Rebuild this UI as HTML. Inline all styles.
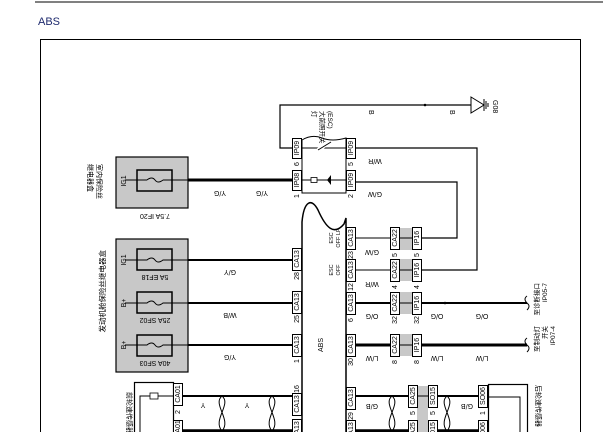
<!DOCTYPE html>
<html><head><meta charset="utf-8"><style>
html,body{margin:0;padding:0;background:#fff;width:603px;height:432px;overflow:hidden}
svg{display:block}
text{font-family:"Liberation Sans","Noto Sans CJK SC",sans-serif;fill:#000}
</style></head><body>
<svg width="603" height="432" viewBox="0 0 603 432" xmlns="http://www.w3.org/2000/svg">
<line x1="35" y1="2" x2="603" y2="2" stroke="#000" stroke-width="1"/>
<text x="38" y="25" font-size="11" style="fill:#1e2a6e">ABS</text>
<path d="M40.5 432 V39.5 H580.5 V432" fill="none" stroke="#000" stroke-width="1"/>

<!-- IG1 box -->
<rect x="116" y="157" width="72" height="51" fill="#c8c8c8" stroke="#000" stroke-width="1.2"/>
<rect x="137" y="170" width="35" height="21" fill="none" stroke="#000" stroke-width="1.5"/>
<line x1="125" y1="180" x2="147" y2="180" stroke="#000" stroke-width="1"/>
<path d="M147 180 q5 -4 8 0 t8 0" fill="none" stroke="#000" stroke-width="1"/>
<line x1="163" y1="180" x2="188" y2="180" stroke="#000" stroke-width="1"/>
<line x1="188" y1="180" x2="292" y2="180" stroke="#000" stroke-width="3"/>
<text transform="translate(126,181) rotate(-90)" font-size="7" text-anchor="middle">IG1</text>
<text transform="translate(220,191) rotate(180)" font-size="7" text-anchor="middle">Y/G</text>
<text transform="translate(262,191) rotate(180)" font-size="7" text-anchor="middle">Y/G</text>
<text transform="translate(155,214) rotate(180)" font-size="7" text-anchor="middle">7.5A IF20</text>
<text transform="translate(97,164) rotate(90)" font-size="7">室内保险丝</text>
<text transform="translate(88,164) rotate(90)" font-size="7">继电器盒</text>

<!-- Engine box -->
<rect x="116" y="239" width="72" height="133" fill="#c8c8c8" stroke="#000" stroke-width="1.2"/>
<g stroke="#000" fill="none">
<rect x="137" y="249" width="35" height="21" stroke-width="1.5"/>
<rect x="137" y="292" width="35" height="21" stroke-width="1.5"/>
<rect x="137" y="335" width="35" height="21" stroke-width="1.5"/>
<path d="M125 260 H147 q5 -4 8 0 t8 0 H188" stroke-width="1"/>
<path d="M125 303 H147 q5 -4 8 0 t8 0 H188" stroke-width="1"/>
<path d="M125 345 H147 q5 -4 8 0 t8 0 H188" stroke-width="1"/>
<line x1="188" y1="260" x2="292" y2="260" stroke-width="2"/>
<line x1="188" y1="303" x2="292" y2="303" stroke-width="2"/>
<line x1="188" y1="345" x2="292" y2="345" stroke-width="2"/>
</g>
<text transform="translate(126,260) rotate(-90)" font-size="7" text-anchor="middle">IG1</text>
<text transform="translate(126,303) rotate(-90)" font-size="7" text-anchor="middle">B+</text>
<text transform="translate(126,345) rotate(-90)" font-size="7" text-anchor="middle">B+</text>
<text transform="translate(155,275) rotate(180)" font-size="7" text-anchor="middle">5A EF18</text>
<text transform="translate(155,318) rotate(180)" font-size="7" text-anchor="middle">25A SF02</text>
<text transform="translate(155,361) rotate(180)" font-size="7" text-anchor="middle">40A SF03</text>
<text transform="translate(230,270) rotate(180)" font-size="7" text-anchor="middle">G/Y</text>
<text transform="translate(230,313) rotate(180)" font-size="7" text-anchor="middle">W/B</text>
<text transform="translate(230,355) rotate(180)" font-size="7" text-anchor="middle">Y/G</text>
<text transform="translate(105,250) rotate(-90)" font-size="7.5" text-anchor="end">发动机舱保险丝继电器盒</text>

<!-- left connectors -->
<g fill="#fff" stroke="#000" stroke-width="1">
<rect x="292.5" y="170.5" width="9" height="20"/>
<rect x="292.5" y="138.5" width="9" height="20"/>
<rect x="292.5" y="248.5" width="9" height="22"/>
<rect x="292.5" y="291.5" width="9" height="22"/>
<rect x="292.5" y="334.5" width="9" height="22"/>
<rect x="292.5" y="393.5" width="9" height="22"/>
<rect x="292.5" y="419.5" width="9" height="22"/>
</g>
<g font-size="7">
<text transform="translate(299,180) rotate(-90)" text-anchor="middle">IP08</text>
<text transform="translate(299,148) rotate(-90)" text-anchor="middle">IP09</text>
<text transform="translate(299,259) rotate(-90)" text-anchor="middle">CA13</text>
<text transform="translate(299,302) rotate(-90)" text-anchor="middle">CA13</text>
<text transform="translate(299,345) rotate(-90)" text-anchor="middle">CA13</text>
<text transform="translate(299,404) rotate(-90)" text-anchor="middle">CA13</text>
<text transform="translate(299,430) rotate(-90)" text-anchor="middle">CA13</text>
<text transform="translate(299,196) rotate(-90)" text-anchor="middle">1</text>
<text transform="translate(299,164) rotate(-90)" text-anchor="middle">6</text>
<text transform="translate(299,276) rotate(-90)" text-anchor="middle">28</text>
<text transform="translate(299,319) rotate(-90)" text-anchor="middle">25</text>
<text transform="translate(299,361) rotate(-90)" text-anchor="middle">1</text>
<text transform="translate(299,389) rotate(-90)" text-anchor="middle">16</text>
</g>

<!-- switch box -->
<path d="M302 193 V140 q10 -6 20 -2 t24 0 V193 Z" fill="#fff" stroke="#000" stroke-width="1"/>
<line x1="302" y1="148" x2="346" y2="148" stroke="#000" stroke-width="1"/>
<line x1="318" y1="150" x2="330" y2="142" stroke="#fff" stroke-width="4"/>
<line x1="318" y1="150" x2="331" y2="142" stroke="#000" stroke-width="1"/>
<line x1="302" y1="180" x2="346" y2="180" stroke="#000" stroke-width="1"/>
<rect x="311" y="177.5" width="6" height="5" fill="#fff" stroke="#000" stroke-width="0.8"/>
<path d="M331 175 l-4 5 l4 5 Z" fill="#000"/>
<g fill="#fff" stroke="#000" stroke-width="1">
<rect x="346.5" y="138.5" width="9" height="20"/>
<rect x="346.5" y="170.5" width="9" height="20"/>
</g>
<text transform="translate(353,148) rotate(-90)" font-size="7" text-anchor="middle">IP09</text>
<text transform="translate(353,180) rotate(-90)" font-size="7" text-anchor="middle">IP09</text>
<text transform="translate(353,164) rotate(-90)" font-size="7" text-anchor="middle">5</text>
<text transform="translate(353,196) rotate(-90)" font-size="7" text-anchor="middle">2</text>
<text transform="translate(312,111) rotate(90)" font-size="6.5">灯</text>
<text transform="translate(320,111) rotate(90)" font-size="6.5">大前照开关</text>
<text transform="translate(328,111) rotate(90)" font-size="6.5">(ESC)</text>

<!-- top ground line -->
<path d="M292 148 H280 V105 H471" fill="none" stroke="#000" stroke-width="1.2"/>
<circle cx="425" cy="105" r="1.3"/>
<path d="M471 97 L484 105 L471 113 Z" fill="#fff" stroke="#000" stroke-width="1"/>
<line x1="484" y1="99" x2="484" y2="111" stroke="#000"/>
<line x1="486" y1="101" x2="486" y2="109" stroke="#000"/>
<line x1="488" y1="103" x2="488" y2="107" stroke="#000"/>
<text transform="translate(493,100) rotate(90)" font-size="7">G08</text>
<text transform="translate(369,110) rotate(90)" font-size="7">B</text>
<text transform="translate(450,110) rotate(90)" font-size="7">B</text>

<!-- ABS module -->
<path d="M302 432 V222 C304 200 312 198 318 210 C326 228 334 236 344 224 L346 218 V432" fill="none" stroke="#000" stroke-width="1.5"/>
<text transform="translate(323,345) rotate(-90)" font-size="7" text-anchor="middle">ABS</text>

<!-- right wires -->
<path d="M356 148 H477 V270 H421" fill="none" stroke="#000" stroke-width="1.2"/>
<path d="M356 182 H457 V238 H421" fill="none" stroke="#000" stroke-width="1.2"/>
<text transform="translate(375,159) rotate(180)" font-size="7" text-anchor="middle">W/R</text>
<text transform="translate(375,192) rotate(180)" font-size="7" text-anchor="middle">G/W</text>
<g stroke="#000" fill="none">
<line x1="356" y1="238" x2="390" y2="238" stroke-width="1"/>
<line x1="356" y1="270" x2="390" y2="270" stroke-width="1"/>
<line x1="356" y1="303" x2="390" y2="303" stroke-width="2"/>
<line x1="421" y1="303" x2="527" y2="303" stroke-width="2"/>
<line x1="356" y1="345" x2="390" y2="345" stroke-width="3"/>
<line x1="421" y1="345" x2="527" y2="345" stroke-width="3"/>
<path d="M527 296 q-4 3 0 7 q4 3 0 7" stroke-width="1"/>
<path d="M527 338 q-4 3 0 7 q4 3 0 7" stroke-width="1"/>
</g>
<circle cx="445" cy="303" r="1.3"/><circle cx="445" cy="345" r="1.3"/>
<g fill="#c8c8c8"><rect x="400" y="228" width="12" height="22"/><rect x="400" y="259" width="12" height="22"/><rect x="400" y="292" width="12" height="22"/><rect x="400" y="334" width="12" height="22"/></g>
<g stroke="#000" stroke-width="1"><line x1="400" y1="238" x2="412" y2="238"/><line x1="400" y1="270" x2="412" y2="270"/><line x1="400" y1="303" x2="412" y2="303"/><line x1="400" y1="345" x2="412" y2="345"/></g>
<g fill="#fff" stroke="#000" stroke-width="1">
<rect x="346.5" y="227.5" width="9" height="22"/><rect x="346.5" y="259.5" width="9" height="22"/><rect x="346.5" y="292.5" width="9" height="22"/><rect x="346.5" y="334.5" width="9" height="22"/>
<rect x="390.5" y="227.5" width="9" height="22"/><rect x="390.5" y="259.5" width="9" height="22"/><rect x="390.5" y="292.5" width="9" height="22"/><rect x="390.5" y="334.5" width="9" height="22"/>
<rect x="412.5" y="227.5" width="9" height="22"/><rect x="412.5" y="259.5" width="9" height="22"/><rect x="412.5" y="292.5" width="9" height="22"/><rect x="412.5" y="334.5" width="9" height="22"/>
</g>
<g font-size="7" text-anchor="middle">
<text transform="translate(353,238) rotate(-90)">CA13</text><text transform="translate(353,270) rotate(-90)">CA13</text><text transform="translate(353,303) rotate(-90)">CA13</text><text transform="translate(353,345) rotate(-90)">CA13</text>
<text transform="translate(397,238) rotate(-90)">CA22</text><text transform="translate(397,270) rotate(-90)">CA22</text><text transform="translate(397,303) rotate(-90)">CA22</text><text transform="translate(397,345) rotate(-90)">CA22</text>
<text transform="translate(419,238) rotate(-90)">IP16</text><text transform="translate(419,270) rotate(-90)">IP16</text><text transform="translate(419,303) rotate(-90)">IP16</text><text transform="translate(419,345) rotate(-90)">IP16</text>
<text transform="translate(353,255) rotate(-90)">23</text><text transform="translate(353,287) rotate(-90)">12</text><text transform="translate(353,320) rotate(-90)">6</text><text transform="translate(353,362) rotate(-90)">30</text>
<text transform="translate(397,255) rotate(-90)">5</text><text transform="translate(397,287) rotate(-90)">4</text><text transform="translate(397,320) rotate(-90)">32</text><text transform="translate(397,362) rotate(-90)">8</text>
<text transform="translate(419,255) rotate(-90)">5</text><text transform="translate(419,287) rotate(-90)">4</text><text transform="translate(419,320) rotate(-90)">32</text><text transform="translate(419,362) rotate(-90)">8</text>
</g>
<g font-size="5.5" text-anchor="middle">
<text transform="translate(333,238) rotate(-90)">ESC</text><text transform="translate(340,238) rotate(-90)">OFF LP</text>
<text transform="translate(333,270) rotate(-90)">ESC</text><text transform="translate(340,270) rotate(-90)">OFF</text>
</g>
<g font-size="7" text-anchor="middle">
<text transform="translate(372,250) rotate(180)">G/W</text>
<text transform="translate(372,282) rotate(180)">W/R</text>
<text transform="translate(372,314) rotate(180)">O/G</text>
<text transform="translate(372,356) rotate(180)">L/W</text>
<text transform="translate(437,314) rotate(180)">O/G</text><text transform="translate(482,314) rotate(180)">O/G</text>
<text transform="translate(437,356) rotate(180)">L/W</text><text transform="translate(482,356) rotate(180)">L/W</text>
</g>
<g font-size="6.5">
<text transform="translate(539,283) rotate(-90)" text-anchor="end">至诊断接口</text>
<text transform="translate(547,283) rotate(-90)" text-anchor="end">IP05-7</text>
<text transform="translate(539,326) rotate(-90)" text-anchor="end">至制动灯</text>
<text transform="translate(547,326) rotate(-90)" text-anchor="end">开关</text>
<text transform="translate(555,326) rotate(-90)" text-anchor="end">IP07-4</text>
</g>

<!-- bottom left sensor -->
<rect x="134.5" y="382.5" width="39" height="60" fill="#fff" stroke="#000" stroke-width="1.2"/>
<path d="M173 396 H158 M150 396 H140 V440" fill="none" stroke="#000" stroke-width="1"/>
<rect x="150" y="393" width="8" height="6" fill="#fff" stroke="#000" stroke-width="0.8"/>
<g fill="#fff" stroke="#000" stroke-width="1"><rect x="173.5" y="383.5" width="9" height="22"/><rect x="173.5" y="420.5" width="9" height="22"/></g>
<text transform="translate(180,394) rotate(-90)" font-size="7" text-anchor="middle">CA01</text>
<text transform="translate(180,429) rotate(-90)" font-size="7" text-anchor="middle">CA01</text>
<text transform="translate(180,412) rotate(-90)" font-size="7" text-anchor="middle">2</text>
<text transform="translate(127,392) rotate(90)" font-size="7">前轮速传感器</text>
<line x1="182" y1="396" x2="292" y2="396" stroke="#000" stroke-width="2"/>
<line x1="182" y1="431" x2="292" y2="431" stroke="#000" stroke-width="3.5"/>
<g fill="none" stroke="#000" stroke-width="1">
<path d="M222 396 C212 404 232 420 222 431 M222 396 C232 404 212 420 222 431"/>
<path d="M272 396 C262 404 282 420 272 431 M272 396 C282 404 262 420 272 431"/>
<path d="M392 396 C382 404 402 420 392 431 M392 396 C402 404 382 420 392 431"/>
<path d="M447 396 C437 404 457 420 447 431 M447 396 C457 404 437 420 447 431"/>
</g>
<text transform="translate(203,403) rotate(180)" font-size="7" text-anchor="middle">Y</text>
<text transform="translate(247,403) rotate(180)" font-size="7" text-anchor="middle">Y</text>

<!-- bottom right -->
<line x1="356" y1="396" x2="478" y2="396" stroke="#000" stroke-width="2"/>
<line x1="356" y1="431" x2="478" y2="431" stroke="#000" stroke-width="3.5"/>
<rect x="417" y="386" width="11" height="46" fill="#c8c8c8"/>
<line x1="417" y1="396" x2="428" y2="396" stroke="#000"/>
<g fill="#fff" stroke="#000" stroke-width="1">
<rect x="346.5" y="387.5" width="9" height="22"/><rect x="346.5" y="420.5" width="9" height="22"/>
<rect x="408.5" y="385.5" width="9" height="22"/><rect x="408.5" y="420.5" width="9" height="22"/>
<rect x="428.5" y="385.5" width="9" height="22"/><rect x="428.5" y="420.5" width="9" height="22"/>
<rect x="478.5" y="385.5" width="9" height="22"/><rect x="478.5" y="420.5" width="9" height="22"/>
</g>
<g font-size="7" text-anchor="middle">
<text transform="translate(353,398) rotate(-90)">CA13</text><text transform="translate(353,431) rotate(-90)">CA13</text>
<text transform="translate(415,396) rotate(-90)">CA25</text><text transform="translate(415,431) rotate(-90)">CA25</text>
<text transform="translate(435,396) rotate(-90)">SO15</text><text transform="translate(435,431) rotate(-90)">SO15</text>
<text transform="translate(485,396) rotate(-90)">SO06</text><text transform="translate(485,431) rotate(-90)">SO06</text>
<text transform="translate(353,416) rotate(-90)">29</text><text transform="translate(415,413) rotate(-90)">5</text><text transform="translate(435,413) rotate(-90)">5</text><text transform="translate(485,413) rotate(-90)">1</text>
<text transform="translate(372,404) rotate(180)">G/B</text><text transform="translate(467,404) rotate(180)">G/B</text>
</g>
<rect x="488.5" y="384.5" width="39" height="60" fill="#fff" stroke="#000" stroke-width="1.2"/>
<path d="M488 397 H520 V440" fill="none" stroke="#000" stroke-width="1"/>
<text transform="translate(536,385) rotate(90)" font-size="7">后轮速传感器</text>
</svg>
</body></html>
